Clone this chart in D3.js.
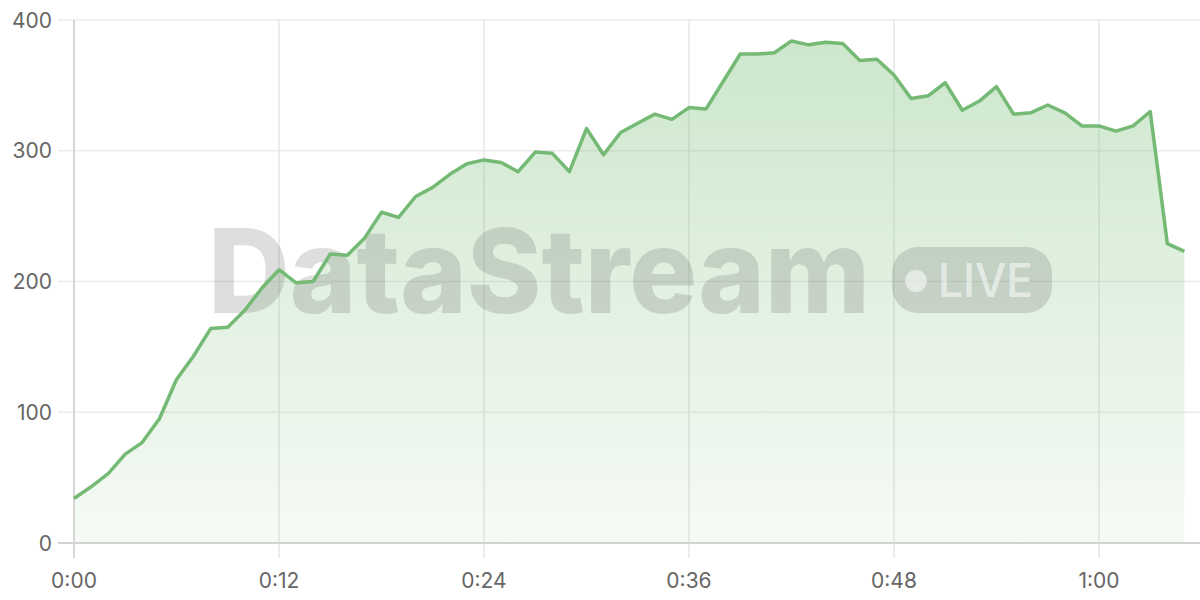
<!DOCTYPE html>
<html>
<head>
<meta charset="utf-8">
<script src="https://cdn.jsdelivr.net/npm/d3@7"></script>
<style>
  body { margin: 0; background: #fff; }
  svg { display: block; font-family: Inter, "DejaVu Sans", sans-serif; }
</style>
</head>
<body>
<div id="graph"></div>
<script>
// values per minute
let values = [34, 43, 53, 68, 77, 95, 125, 143, 164, 165,
  178, 195, 209, 199, 200, 221, 220, 233, 253, 249,
  265, 272, 282, 290, 293, 291, 284, 299, 298, 284,
  317, 297, 314, 321, 328, 324, 333, 332, 353, 374,
  374, 375, 384, 381, 383, 382, 369, 370, 358, 340,
  342, 352, 331, 338, 349, 328, 329, 335, 329, 319,
  319, 315, 319, 330, 229, 223];
let xTicks = [0, 12, 24, 36, 48, 60];
let xTickLabels = ["0:00", "0:12", "0:24", "0:36", "0:48", "1:00"];
let yTicks = [0, 100, 200, 300, 400];

let svgWidth = 1200, svgHeight = 600;
let margin = { top: 20, right: 16, bottom: 57, left: 74 };
let width = svgWidth - margin.left - margin.right;
let height = svgHeight - margin.top - margin.bottom;

let data = values.map((v, i) => ({ m: i, v: v }));

let xScale = d3.scaleLinear().domain([0, 65]).range([0, 1110.4]);
let yScale = d3.scaleLinear().domain([0, 400]).range([height, 0]);

let svg = d3.select("#graph").append("svg")
  .attr("width", svgWidth).attr("height", svgHeight);

let defs = svg.append("defs");
let grad = defs.append("linearGradient")
  .attr("id", "areaGrad").attr("x1", 0).attr("y1", 0).attr("x2", 0).attr("y2", 1);
grad.append("stop").attr("offset", "0%").attr("stop-color", "#7bbf79").attr("stop-opacity", 0.38);
grad.append("stop").attr("offset", "100%").attr("stop-color", "#7bbf79").attr("stop-opacity", 0.07);

let g = svg.append("g").attr("transform", `translate(${margin.left},${margin.top})`);

// horizontal grid
g.append("g").selectAll("line").data(yTicks.filter(d => d > 0)).enter().append("line")
  .attr("x1", -16).attr("x2", svgWidth - margin.left)
  .attr("y1", d => yScale(d)).attr("y2", d => yScale(d))
  .attr("stroke", "#ebebeb").attr("stroke-width", 1.5);

// vertical grid
g.append("g").selectAll("line").data(xTicks.filter(d => d > 0)).enter().append("line")
  .attr("x1", d => xScale(d)).attr("x2", d => xScale(d))
  .attr("y1", 0).attr("y2", height + 15)
  .attr("stroke", "#e6e6e6").attr("stroke-width", 1.5);

// area
let area = d3.area().x(d => xScale(d.m)).y0(height).y1(d => yScale(d.v));
g.append("path").datum(data).attr("d", area).attr("fill", "url(#areaGrad)");

// watermark
let wm = g.append("g").attr("fill", "rgb(70,70,70)").attr("fill-opacity", 0.18);
wm.append("text")
  .attr("x", 208 - margin.left).attr("y", 313 - margin.top)
  .attr("textLength", 662).attr("lengthAdjust", "spacingAndGlyphs")
  .style("font-size", "117px").style("font-weight", 800)
  .text("DataStream");
wm.append("rect")
  .attr("x", 892 - margin.left).attr("y", 247 - margin.top)
  .attr("width", 160).attr("height", 66).attr("rx", 26);
let live = g.append("g").attr("fill", "#fff").attr("fill-opacity", 0.55);
live.append("circle").attr("cx", 916 - margin.left).attr("cy", 281 - margin.top).attr("r", 11);
live.append("text")
  .attr("x", 938 - margin.left).attr("y", 297 - margin.top)
  .attr("textLength", 95).attr("lengthAdjust", "spacingAndGlyphs")
  .style("font-size", "47px").style("font-weight", 500)
  .text("LIVE");

// axes lines
g.append("line").attr("x1", -16).attr("x2", svgWidth - margin.left)
  .attr("y1", height).attr("y2", height).attr("stroke", "#d2d2d2").attr("stroke-width", 2);
g.append("line").attr("x1", 0).attr("x2", 0)
  .attr("y1", 0).attr("y2", height + 15).attr("stroke", "#d6d6d6").attr("stroke-width", 2);

// line
let line = d3.line().x(d => xScale(d.m)).y(d => yScale(d.v));
g.append("path").datum(data).attr("d", line)
  .attr("fill", "none").attr("stroke", "#75ba74").attr("stroke-width", 3.5)
  .attr("stroke-linejoin", "round");

// y labels
g.append("g").selectAll("text").data(yTicks).enter().append("text")
  .attr("x", -22).attr("y", d => yScale(d)).attr("dy", "0.36em")
  .attr("text-anchor", "end").attr("fill", "#666").style("font-size", "21px")
  .text(d => d);

// x labels
g.append("g").selectAll("text").data(xTicks).enter().append("text")
  .attr("x", d => xScale(d)).attr("y", height + 45)
  .attr("text-anchor", "middle").attr("fill", "#666").style("font-size", "21px")
  .text((d, i) => xTickLabels[i]);
</script>
</body>
</html>
